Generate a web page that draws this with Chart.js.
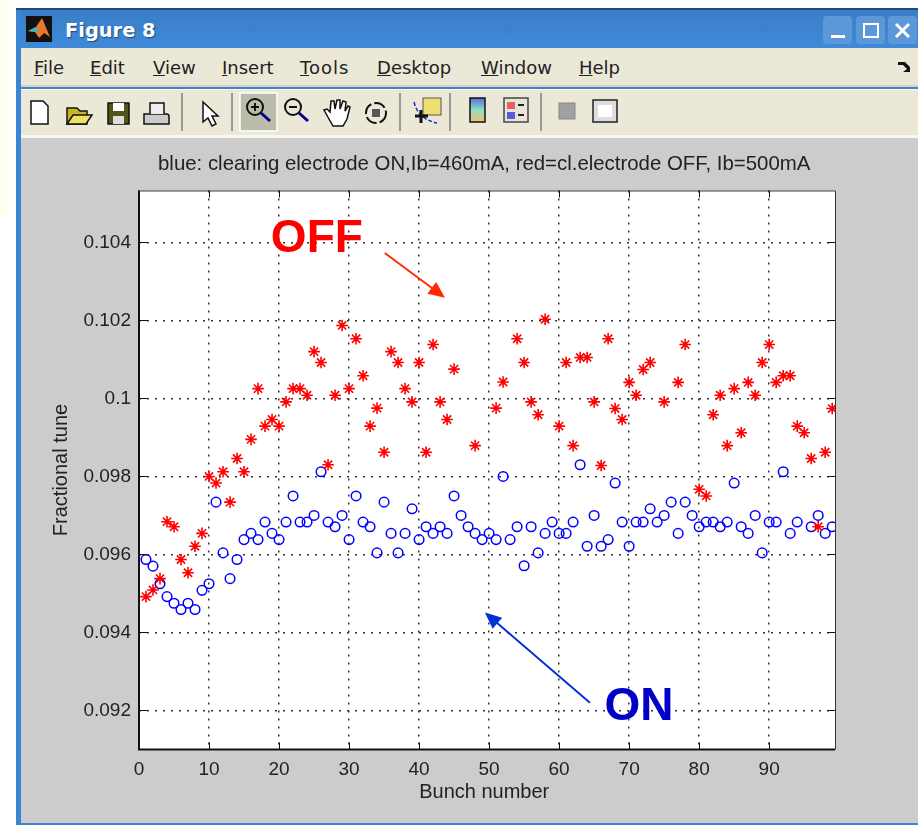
<!DOCTYPE html>
<html>
<head>
<meta charset="utf-8">
<title>Figure 8</title>
<script src="https://cdn.jsdelivr.net/npm/chart.js@4"></script>
<style>
  html, body { margin: 0; padding: 0; background: #fff; overflow: hidden; }
  body { width: 918px; height: 825px; position: relative; font-family: "Liberation Sans", sans-serif; }
  .abs { position: absolute; }
  #note { left: 0; top: 0; width: 9px; height: 216px; background: #fffff0; }
  #win { left: 16px; top: 8px; width: 902px; height: 817px; background: #3c85d3; border-top: 2px solid #1c4a80; box-sizing: border-box; }
  #titlebar { left: 21px; top: 10px; width: 897px; height: 38px; background: linear-gradient(#3a7dc6, #3f8ad8); }
  #logo { left: 26px; top: 16px; }
  #titletext { left: 65px; top: 19px; color: #fff; font: bold 19.4px "DejaVu Sans", sans-serif; text-shadow: 1px 1px 1px #1c4a80; }
  .winbtn { top: 16px; width: 29px; height: 28px; background: #5c97d8; border-radius: 4px; }
  #menubar { left: 21px; top: 48px; width: 897px; height: 39px; background: #ebe8d8; border-bottom: 2px solid #d5d2c0; box-sizing: border-box; }
  .menu { top: 57px; font: 18px "DejaVu Sans", sans-serif; color: #222; }
  #toolbar { left: 21px; top: 89px; width: 897px; height: 49px; background: #ebe8d8; border-top: 1px solid #f8f7f0; border-bottom: 3px solid #f8f7f0; box-sizing: border-box; }
  #figure { left: 21px; top: 138px; width: 897px; height: 685px; background: #cccccc; }
  #plot { position: absolute; left: 0; top: 0; }
</style>
</head>
<body>
<div class="abs" id="note"></div>
<div class="abs" id="win"></div>
<div class="abs" id="titlebar"></div>
<svg class="abs" id="logo" width="26" height="26"><rect width="26" height="26" fill="#111"/><path d="M2 15 L10 11 L16 2 L24 21 L18 17 L13 22 L9 16 Z" fill="#e8782a"/><path d="M2 15 L10 11 L12 16 L9 16 Z" fill="#3ab4c8"/></svg>
<div class="abs" id="titletext">Figure 8</div>
<div class="abs winbtn" style="left:823px"><svg width="29" height="28"><rect x="8" y="19" width="14" height="3" fill="#fff"/></svg></div>
<div class="abs winbtn" style="left:856px"><svg width="29" height="28"><rect x="8" y="8" width="14" height="13" fill="none" stroke="#fff" stroke-width="2"/></svg></div>
<div class="abs winbtn" style="left:888px"><svg width="29" height="28"><path d="M8 8 L21 21 M21 8 L8 21" stroke="#fff" stroke-width="3"/></svg></div>
<div class="abs" id="menubar"></div>
<div class="abs menu" style="left:34px"><u>F</u>ile</div>
<div class="abs menu" style="left:90px"><u>E</u>dit</div>
<div class="abs menu" style="left:153px"><u>V</u>iew</div>
<div class="abs menu" style="left:222px"><u>I</u>nsert</div>
<div class="abs menu" style="left:300px;letter-spacing:1px"><u>T</u>ools</div>
<div class="abs menu" style="left:377px"><u>D</u>esktop</div>
<div class="abs menu" style="left:481px"><u>W</u>indow</div>
<div class="abs menu" style="left:579px"><u>H</u>elp</div>
<svg class="abs" style="left:897px;top:60px" width="16" height="14"><path d="M1 2 L8 2 L13 7 L13 3 L13 12 L6 12 L10 9 L6 5 L1 5 Z" fill="#111"/></svg>
<div class="abs" id="toolbar"></div>
<svg class="abs" style="left:21px;top:89px" width="897" height="47">
  <!-- new, open, save, print -->
  <path d="M10 12 H22 L27 17 V35 H10 Z" fill="#fff" stroke="#111" stroke-width="1.5"/>
  <path d="M46 35 V19 H56 L59 22 H66 V35 Z" fill="#c8b820" stroke="#111" stroke-width="1.5"/>
  <path d="M46 35 L52 26 H71 L65 35 Z" fill="#eee060" stroke="#111" stroke-width="1.5"/>
  <rect x="87" y="14" width="21" height="21" fill="#55551a" stroke="#111" stroke-width="1.5"/>
  <rect x="92" y="14" width="11" height="8" fill="#fff"/><rect x="92" y="27" width="11" height="8" fill="#ddd"/>
  <path d="M123 25 H146 Q148 25 148 28 V35 H123 Z" fill="#ccc" stroke="#111" stroke-width="1.5"/>
  <path d="M129 25 V14 H143 V25" fill="#eee" stroke="#111" stroke-width="1.5"/>
  <!-- separators -->
  <g stroke="#999" stroke-width="2">
    <line x1="161" y1="4" x2="161" y2="42"/><line x1="211" y1="4" x2="211" y2="42"/>
    <line x1="379" y1="4" x2="379" y2="42"/><line x1="429" y1="4" x2="429" y2="42"/>
    <line x1="520" y1="4" x2="520" y2="42"/>
  </g>
  <!-- pointer -->
  <path d="M182 13 L182 33 L187 29 L191 37 L195 35 L191 27 L197 27 Z" fill="#fff" stroke="#111" stroke-width="1.5"/>
  <!-- zoom in (pressed) -->
  <rect x="219" y="4" width="37" height="38" fill="#bcbcaa" stroke="#fff" stroke-width="1.5"/>
  <circle cx="234" cy="18" r="8" fill="none" stroke="#111" stroke-width="2"/>
  <path d="M230 18 H238 M234 14 V22" stroke="#111" stroke-width="2"/>
  <line x1="240" y1="24" x2="249" y2="32" stroke="#000090" stroke-width="3"/>
  <!-- zoom out -->
  <circle cx="272" cy="18" r="8" fill="none" stroke="#111" stroke-width="2"/>
  <path d="M268 18 H276" stroke="#111" stroke-width="2"/>
  <line x1="278" y1="24" x2="287" y2="32" stroke="#000090" stroke-width="3"/>
  <!-- hand -->
  <path d="M308 30 L303 21 L306 20 L309 23 L310 12 L313 12 L314 20 L316 11 L319 11 L319 20 L322 12 L325 13 L324 22 L327 17 L329 18 L326 30 L322 37 L312 37 Z" fill="#fff" stroke="#111" stroke-width="1.5"/>
  <!-- rotate -->
  <circle cx="355" cy="24" r="10" fill="none" stroke="#111" stroke-width="2" stroke-dasharray="12 3"/>
  <rect x="351" y="20" width="8" height="8" fill="#555"/>
  <!-- data cursor -->
  <rect x="402" y="9" width="18" height="17" fill="#eee070" stroke="#555"/>
  <path d="M393 13 Q397 30 416 34" fill="none" stroke="#2222dd" stroke-width="1.5" stroke-dasharray="4 2"/>
  <path d="M394 27 H407 M400 21 V34" stroke="#111" stroke-width="3"/>
  <!-- colorbar -->
  <defs><linearGradient id="cb" x1="0" y1="0" x2="0" y2="1"><stop offset="0" stop-color="#5a6ae0"/><stop offset="0.5" stop-color="#90e0c0"/><stop offset="1" stop-color="#f0c070"/></linearGradient></defs>
  <rect x="449" y="9" width="15" height="24" fill="url(#cb)" stroke="#111" stroke-width="1.5"/>
  <!-- legend -->
  <rect x="483" y="9" width="24" height="24" fill="#e8e4d8" stroke="#444" stroke-width="1.5"/>
  <rect x="486" y="13" width="8" height="7" fill="#e86060"/><rect x="486" y="23" width="8" height="7" fill="#5a5ae0"/>
  <path d="M497 16 H503 M497 26 H503" stroke="#222" stroke-width="2"/>
  <!-- plot tools -->
  <rect x="538" y="14" width="16" height="16" fill="#a0a0a0" stroke="#888"/>
  <rect x="572" y="11" width="24" height="22" fill="#ddd" stroke="#222" stroke-width="1.5"/>
  <rect x="577" y="16" width="14" height="12" fill="#fff"/>
</svg>
<div class="abs" id="figure"></div>
<canvas id="plot" width="918" height="825"></canvas>

<script>
// values (fractional tune per bunch, null = no marker visible)
const bunchNumbers = [1,2,3,4,5,6,7,8,9,10,11,12,13,14,15,16,17,18,19,20,21,22,23,24,25,26,27,28,29,30,31,32,33,
  34,35,36,37,38,39,40,41,42,43,44,45,46,47,48,49,50,51,52,53,54,55,56,57,58,59,60,61,62,63,64,65,66,
  67,68,69,70,71,72,73,74,75,76,77,78,79,80,81,82,83,84,85,86,87,88,89,90,91,92,93,94,95,96,97,98,99];

const tuneOn = [
  0.09587,0.09570,0.09525,0.09492,0.09475,0.09459,0.09475,0.09459,0.09508,0.09525,0.09734,0.09604,0.09538,0.09587,0.09638,0.09654,0.09638,0.09683,0.09654,0.09638,
  0.09683,0.09750,0.09683,0.09683,0.09700,0.09812,0.09683,0.09671,0.09700,0.09638,0.09750,0.09683,0.09671,0.09604,0.09734,0.09654,0.09604,0.09654,0.09717,0.09638,
  0.09671,0.09654,0.09671,0.09654,0.09750,0.09700,0.09671,0.09654,0.09638,0.09654,0.09638,0.09800,0.09638,0.09671,0.09571,0.09671,0.09604,0.09654,0.09683,0.09654,
  0.09654,0.09683,0.09830,0.09621,0.09700,0.09621,0.09638,0.09783,0.09683,0.09621,0.09683,0.09683,0.09717,0.09683,0.09700,0.09734,0.09654,0.09734,0.09700,0.09671,
  0.09683,0.09683,0.09671,0.09683,0.09783,0.09671,0.09654,0.09700,0.09604,0.09683,0.09683,0.09812,0.09654,0.09683,null,0.09671,0.09700,0.09654,0.09671
];

const tuneOff = [
  0.09492,0.09509,0.09538,0.09684,0.09671,0.09587,0.09553,0.09621,0.09654,0.09800,0.09783,0.09812,0.09734,0.09846,0.09812,0.09895,0.10025,0.09929,0.09946,0.09929,
  0.09991,0.10025,0.10025,0.10008,0.10120,0.10092,0.09830,0.10008,0.10187,0.10025,0.10153,0.10058,0.09929,0.09975,0.09862,0.10120,0.10092,0.10025,0.09991,0.10092,
  0.09862,0.10138,0.09991,0.09946,0.10075,null,null,0.09879,null,null,0.09975,0.10042,null,0.10153,0.10092,0.09991,0.09958,0.10203,null,0.09929,
  0.10092,0.09879,0.10105,0.10105,0.09991,0.09828,0.10153,0.09974,0.09946,0.10041,0.10008,0.10074,0.10092,null,0.09991,null,0.10041,0.10138,null,0.09767,
  0.09750,0.09958,0.10008,0.09879,0.10025,0.09912,0.10041,0.10008,0.10092,0.10138,0.10041,0.10058,0.10058,0.09929,0.09912,0.09846,0.09671,0.09862,0.09974
];

const yTickValues = [0.092,0.094,0.096,0.098,0.1,0.102,0.104];
const yTickLabels = ["0.092","0.094","0.096","0.098","0.1","0.102","0.104"];

const toPoints = (ys) => bunchNumbers
  .map((x, i) => ({ x: x, y: ys[i] }))
  .filter((p) => p.y !== null);

//-----------------------------------------------------
// inward axis ticks, box, arrows and the OFF / ON labels
//-----------------------------------------------------
function arrow(ctx, x1, y1, x2, y2, color) {
  const a = Math.atan2(y2 - y1, x2 - x1);
  ctx.strokeStyle = color;
  ctx.fillStyle = color;
  ctx.lineWidth = 1.9;
  ctx.beginPath();
  ctx.moveTo(x1, y1);
  ctx.lineTo(x2 - 10 * Math.cos(a), y2 - 10 * Math.sin(a));
  ctx.stroke();
  ctx.beginPath();
  ctx.moveTo(x2, y2);
  ctx.lineTo(x2 - 18 * Math.cos(a - 0.42), y2 - 18 * Math.sin(a - 0.42));
  ctx.lineTo(x2 - 18 * Math.cos(a + 0.42), y2 - 18 * Math.sin(a + 0.42));
  ctx.closePath();
  ctx.fill();
}

const figureMarks = {
  id: "figureMarks",
  afterDatasetsDraw(chart) {
    const { ctx, scales: { x, y }, chartArea: a } = chart;
    ctx.save();
    ctx.strokeStyle = "#111";
    ctx.lineWidth = 1;
    ctx.beginPath();
    x.ticks.forEach((t) => {
      const p = Math.round(x.getPixelForValue(t.value)) + 0.5;
      ctx.moveTo(p, a.bottom); ctx.lineTo(p, a.bottom - 7);
      ctx.moveTo(p, a.top); ctx.lineTo(p, a.top + 7);
    });
    y.ticks.forEach((t) => {
      const p = Math.round(y.getPixelForValue(t.value)) + 0.5;
      ctx.moveTo(a.left, p); ctx.lineTo(a.left + 8, p);
      ctx.moveTo(a.right, p); ctx.lineTo(a.right - 8, p);
    });
    ctx.stroke();
    ctx.lineWidth = 2;
    ctx.beginPath();
    ctx.moveTo(a.left, a.top); ctx.lineTo(a.left, a.bottom); ctx.lineTo(a.right, a.bottom);
    ctx.stroke();
    ctx.lineWidth = 1;
    ctx.strokeStyle = "#333";
    ctx.beginPath();
    ctx.moveTo(a.left, a.top + 0.5); ctx.lineTo(a.right + 0.5, a.top + 0.5); ctx.lineTo(a.right + 0.5, a.bottom);
    ctx.stroke();

    arrow(ctx, x.getPixelForValue(64.4), y.getPixelForValue(0.09220),
      x.getPixelForValue(49.4), y.getPixelForValue(0.09451), "#0030d8");
    arrow(ctx, x.getPixelForValue(35.1), y.getPixelForValue(0.10373),
      x.getPixelForValue(43.7), y.getPixelForValue(0.10258), "#ff2800");

    ctx.font = "bold 46px 'Liberation Sans'";
    ctx.textAlign = "center";
    ctx.textBaseline = "middle";
    ctx.fillStyle = "#ff0000";
    ctx.fillText("OFF", x.getPixelForValue(25.4), y.getPixelForValue(0.10407));
    ctx.fillStyle = "#0000c8";
    ctx.fillText("ON", x.getPixelForValue(71.4), y.getPixelForValue(0.09207));
    ctx.restore();
  },
  beforeDraw(chart) {
    const { ctx, chartArea: a } = chart;
    ctx.save();
    ctx.fillStyle = "#fff";
    ctx.fillRect(a.left, a.top, a.right - a.left, a.bottom - a.top);
    ctx.restore();
  },
};

const tickFont = { family: "'Liberation Sans'", size: 19 };
const labelFont = { family: "'Liberation Sans'", size: 20 };

new Chart(document.getElementById("plot"), {
  type: "scatter",
  data: {
    datasets: [
      {
        label: "OFF",
        data: toPoints(tuneOff),
        pointStyle: "star",
        pointRadius: 5.8,
        borderColor: "#ff0000",
        backgroundColor: "#ff0000",
        pointBorderWidth: 1.6,
      },
      {
        label: "ON",
        data: toPoints(tuneOn),
        pointStyle: "circle",
        pointRadius: 4.8,
        borderColor: "#0000ff",
        backgroundColor: "rgba(0,0,0,0)",
        pointBorderWidth: 1.5,
      },
    ],
  },
  options: {
    responsive: false,
    animation: false,
    layout: { padding: { top: 0, right: 83, bottom: 0, left: 0 } },
    plugins: {
      legend: { display: false },
      tooltip: { enabled: false },
      title: {
        display: true,
        fullSize: false,
        text: "blue: clearing electrode ON,Ib=460mA, red=cl.electrode OFF, Ib=500mA\u00a0",
        color: "#222",
        font: { family: "'Liberation Sans'", size: 20.4, weight: "normal" },
        padding: { top: 152, bottom: 14 },
      },
    },
    scales: {
      x: {
        type: "linear",
        min: 0,
        max: 99.4,
        afterFit: (s) => { s.height = 75.5; },
        ticks: { stepSize: 10, includeBounds: false, maxRotation: 0, color: "#222", font: tickFont, padding: 9 },
        grid: { color: "#333", lineWidth: 1.5, drawTicks: false },
        border: { display: false, dash: [2, 6] },
        title: { display: true, text: "Bunch number\u00a0", color: "#222", font: labelFont, padding: { top: 0, bottom: 21 } },
      },
      y: {
        min: 0.091,
        max: 0.10533,
        afterFit: (s) => { s.width = 139; },
        afterBuildTicks: (s) => { s.ticks = yTickValues.map((v) => ({ value: v })); },
        ticks: {
          color: "#222",
          font: tickFont,
          padding: 8,
          callback: (v) => yTickLabels[yTickValues.indexOf(v)],
        },
        grid: { color: "#333", lineWidth: 1.5, drawTicks: false },
        border: { display: false, dash: [2, 6] },
        title: { display: true, text: "Fractional tune", color: "#222", font: labelFont, padding: { top: 49, bottom: 0 } },
      },
    },
  },
  plugins: [figureMarks],
});
</script>
</body>
</html>
